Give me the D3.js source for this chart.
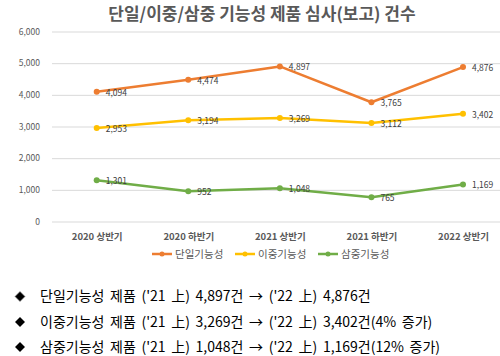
<!DOCTYPE html>
<html><head><meta charset="utf-8">
<script src="https://cdn.jsdelivr.net/npm/d3@7"></script>
<style>body{margin:0;background:#fff;} svg{display:block;}</style>
</head><body>
<svg id="c" width="500" height="356"></svg>
<script>
const categories = ["2020 상반기","2020 하반기","2021 상반기","2021 하반기","2022 상반기"];
const seriesNames = ["단일기능성","이중기능성","삼중기능성"];
const single = [4094,4474,4897,3765,4876];
const dual = [2953,3194,3269,3112,3402];
const triple = [1301,952,1048,765,1169];
const yTicks = [0,1000,2000,3000,4000,5000,6000];
const colors = ["#ED7D31","#FFC000","#70AD47"];
const notes = [
  "단일기능성 제품 ('21 上) 4,897건 → ('22 上) 4,876건",
  "이중기능성 제품 ('21 上) 3,269건 → ('22 上) 3,402건(4% 증가)",
  "삼중기능성 제품 ('21 上) 1,048건 → ('22 上) 1,169건(12% 증가)"
];
const series = [single, dual, triple];

const svg = d3.select("#c");
const font = "'Malgun Gothic','Noto Sans CJK KR',sans-serif";

svg.append("text").attr("x",262).attr("y",20).attr("text-anchor","middle")
  .attr("font-family",font).attr("font-size",17).attr("font-weight","bold")
  .attr("fill","#595959").text("단일/이중/삼중 기능성 제품 심사(보고) 건수");

const x = d3.scalePoint().domain(categories).range([96.7,463]);
const y = d3.scaleLinear().domain([0,6000]).range([221.5,31.5]);

const yAxis = svg.append("g").attr("transform","translate(52,0)")
  .call(d3.axisLeft(y).tickValues(yTicks).tickFormat(d3.format(",")).tickSize(-448).tickPadding(12));
yAxis.select(".domain").remove();
yAxis.selectAll("line").attr("stroke","#D9D9D9");
yAxis.selectAll("text").attr("font-family",font).attr("font-size",8.5).attr("fill","#595959");

const xAxis = svg.append("g").attr("transform","translate(0,221.5)")
  .call(d3.axisBottom(x).tickSize(0).tickPadding(12));
xAxis.select(".domain").remove();
xAxis.selectAll("text").attr("font-family",font).attr("font-size",9.5).attr("font-weight","bold").attr("fill","#595959");

const line = d3.line().x((d,i)=>x(categories[i])).y(d=>y(d));
series.forEach((s,k)=>{
  svg.append("path").datum(s).attr("d",line).attr("fill","none")
    .attr("stroke",colors[k]).attr("stroke-width",2.5).attr("stroke-linejoin","round");
  svg.selectAll(null).data(s).enter().append("circle")
    .attr("cx",(d,i)=>x(categories[i])).attr("cy",d=>y(d)).attr("r",3).attr("fill",colors[k]);
  svg.selectAll(null).data(s).enter().append("text")
    .attr("x",(d,i)=>x(categories[i])+9).attr("y",d=>y(d)+4)
    .attr("font-family",font).attr("font-size",8.5).attr("fill","#404040")
    .text(d=>d3.format(",")(d));
});

const legX = [152,235,318];
seriesNames.forEach((n,k)=>{
  const g = svg.append("g").attr("transform",`translate(${legX[k]},254)`);
  g.append("line").attr("x1",0).attr("x2",20).attr("stroke",colors[k]).attr("stroke-width",2.5);
  g.append("circle").attr("cx",10).attr("r",2.5).attr("fill",colors[k]);
  g.append("text").attr("x",23).attr("y",4).attr("font-family",font).attr("font-size",10.5)
    .attr("fill","#595959").text(n);
});

const noteY = [296.5,322,347];
notes.forEach((t,i)=>{
  const g = svg.append("g").attr("transform",`translate(20,${noteY[i]})`);
  g.append("path").attr("d","M0,-5L5,0L0,5L-5,0Z").attr("fill","#000").attr("stroke","#888").attr("stroke-width",0.6);
  g.append("text").attr("x",20).attr("y",4.5).attr("font-family",font).attr("font-size",14)
    .attr("fill","#000").attr("word-spacing",2.5).text(t);
});
</script>
</body></html>
